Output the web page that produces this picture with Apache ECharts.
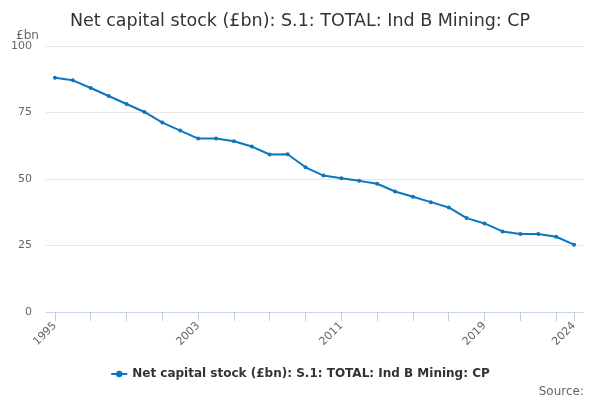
<!DOCTYPE html>
<html>
<head>
<meta charset="utf-8">
<script src="https://cdn.jsdelivr.net/npm/echarts@6/dist/echarts.min.js"></script>
<style>html,body{margin:0;padding:0;background:#fff}#c{width:600px;height:400px}</style>
</head>
<body>
<div id="c"></div>
<script>
var years = ['1995','1996','1997','1998','1999','2000','2001','2002','2003','2004','2005','2006','2007','2008','2009','2010','2011','2012','2013','2014','2015','2016','2017','2018','2019','2020','2021','2022','2023','2024'];
var values = [88.1, 87.1, 84.2, 81.2, 78.2, 75.2, 71.2, 68.2, 65.2, 65.2, 64.2, 62.2, 59.2, 59.3, 54.4, 51.3, 50.3, 49.3, 48.2, 45.3, 43.3, 41.3, 39.3, 35.3, 33.3, 30.3, 29.3, 29.3, 28.3, 25.3];
var yTicks = [0, 25, 50, 75, 100];
var labelYears = ['1995','2003','2011','2019','2024'];
var tickYears = ['1995','1997','1999','2001','2003','2005','2007','2009','2011','2013','2015','2017','2019','2021','2023','2024'];
var seriesName = 'Net capital stock (£bn): S.1: TOTAL: Ind B Mining: CP';
var titleText = 'Net capital stock (£bn): S.1: TOTAL: Ind B Mining: CP';

var chart = echarts.init(document.getElementById('c'));
var font = 'DejaVu Sans';
chart.setOption({
  animation: false,
  textStyle: {fontFamily: font},
  title: [
    {text: titleText, left: 'center', top: 7, textStyle: {fontFamily: font, fontSize: 17.5, fontWeight: 'normal', color: '#333333'}},
    {text: '£bn', left: 11, top: 25, textStyle: {fontFamily: font, fontSize: 12, fontWeight: 'normal', color: '#666666'}},
    {text: 'Source:', right: 11, top: 381, textStyle: {fontFamily: font, fontSize: 12, fontWeight: 'normal', color: '#666666'}}
  ],
  legend: {
    bottom: 15, left: 'center',
    itemWidth: 16, itemHeight: 8,
    textStyle: {fontFamily: font, fontSize: 12, fontWeight: 'bold', color: '#333333'},
    data: [seriesName]
  },
  grid: {left: 46, right: 17, top: 46, bottom: 88},
  xAxis: {
    type: 'category',
    data: years,
    boundaryGap: true,
    axisLine: {lineStyle: {color: '#ccd6eb'}},
    axisTick: {show: true, alignWithLabel: true, length: 9, lineStyle: {color: '#c0cde6', width: 1},
      interval: function (i, v) { return tickYears.indexOf(v) >= 0; }},
    axisLabel: {rotate: 45, color: '#666666', fontSize: 11, margin: 12,
      interval: function (i, v) { return labelYears.indexOf(v) >= 0; }},
    splitLine: {show: false}
  },
  yAxis: {
    type: 'value', min: yTicks[0], max: yTicks[yTicks.length - 1], interval: 25,
    axisLine: {show: false}, axisTick: {show: false},
    axisLabel: {color: '#666666', fontSize: 11, margin: 14},
    splitLine: {lineStyle: {color: '#e6e6e6'}}
  },
  series: [{
    name: seriesName, type: 'line', data: values,
    symbol: 'circle', symbolSize: 4, showSymbol: true,
    lineStyle: {color: '#0a77c0', width: 2},
    itemStyle: {color: '#0a77c0'}
  }]
});
</script>
</body>
</html>
